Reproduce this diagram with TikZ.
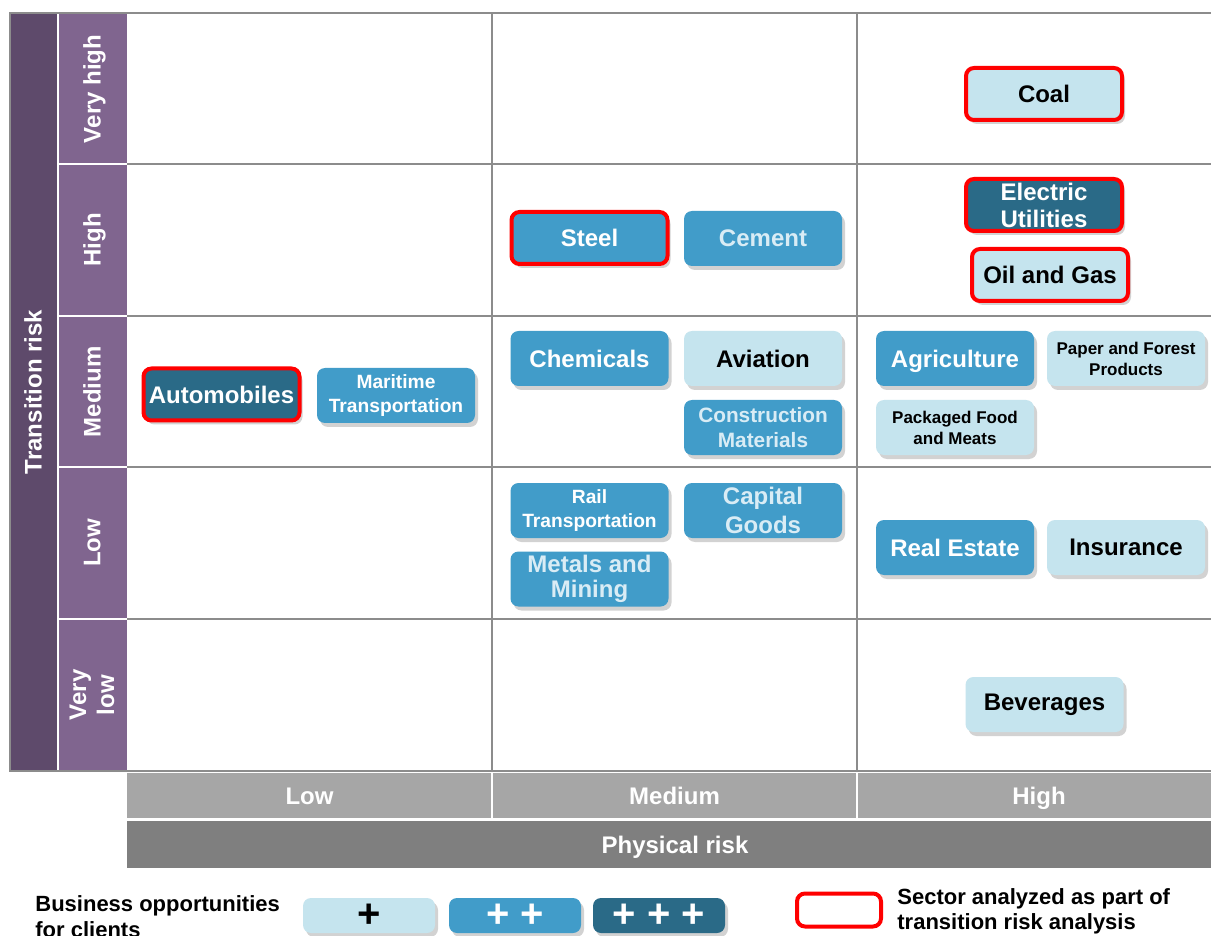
\documentclass[tikz,border=0pt]{standalone}
\usepackage{fontspec}
\setmainfont{Liberation Sans}
\usetikzlibrary{shadows}

\definecolor{sectorlight}{HTML}{C5E4EE}
\definecolor{sectormid}{HTML}{419CC9}
\definecolor{sectordark}{HTML}{2A6A87}
\definecolor{textpale}{HTML}{D9ECF5}
\definecolor{axisdark}{HTML}{5E4A6B}
\definecolor{axislight}{HTML}{80658F}
\definecolor{gridgray}{HTML}{8C8C8C}
\definecolor{barlight}{HTML}{A6A6A6}
\definecolor{bardark}{HTML}{7F7F7F}

\tikzset{
  sector/.style={rounded corners=4pt, minimum width=79pt, minimum height=27.5pt,
    inner sep=1pt, align=center, font=\bfseries\fontsize{12}{13.5}\selectfont,
    drop shadow={shadow xshift=1.5pt, shadow yshift=-2pt, opacity=0.35}},
  lowopp/.style={sector, fill=sectorlight, text=black},
  midopp/.style={sector, fill=sectormid, text=white},
  highopp/.style={sector, fill=sectordark, text=white},
  analyzed/.style={draw=red, line width=2pt, minimum width=78pt, minimum height=26pt},
  smalltext/.style={font=\bfseries\fontsize{8.5}{10.5}\selectfont},
  midtext/.style={font=\bfseries\fontsize{9.6}{12}\selectfont},
  nodepth/.style={text depth=0pt},
  legbox/.style={minimum width=66pt, minimum height=17.5pt,
    font=\bfseries\fontsize{20}{20}\selectfont},
}

\begin{document}
\begin{tikzpicture}[x=0.5pt, y=-0.5pt]
  \useasboundingbox[fill=white] (0,0) rectangle (1211,936);

  % axes and grid
  \fill[axisdark] (10,13) rectangle (57,771);
  \fill[axislight] (59,13) rectangle (127,771);
  \foreach \y in {164,316,467,619} {
    \draw[white, line width=1.2pt] (59,\y) -- (127,\y);
    \draw[gridgray, line width=1pt] (127,\y) -- (1211,\y);
  }
  \foreach \x in {492,857}
    \draw[gridgray, line width=1pt] (\x,13) -- (\x,771);
  \draw[gridgray, line width=1pt] (1211,13) -- (10,13) -- (10,771) -- (1211,771);

  \fill[barlight] (127,773) rectangle (1211,818);
  \foreach \x in {492,857}
    \draw[white, line width=1pt] (\x,773) -- (\x,818);
  \fill[bardark] (127,821) rectangle (1211,868);

  \begin{scope}[every node/.style={text=white, align=center,
      font=\bfseries\fontsize{12}{14}\selectfont}]
    \node[rotate=90, nodepth] (trisk) at (33,392) {Transition risk};
    \node[rotate=90, nodepth] (tvhigh) at (92,89) {Very high};
    \node[rotate=90, nodepth] (thigh) at (92,240) {High};
    \node[rotate=90, nodepth] (tmed) at (92,392) {Medium};
    \node[rotate=90, nodepth] (tlow) at (92,543) {Low};
    \node[rotate=90] (tvlow) at (92,695) {Very\\low};
    \node[nodepth] (plow) at (309.5,796) {Low};
    \node[nodepth] (pmed) at (674.5,796) {Medium};
    \node[nodepth] (phigh) at (1039,796) {High};
    \node[nodepth] (prisk) at (675,845) {Physical risk};
  \end{scope}

  % sectors
  \node[lowopp, analyzed] (coal) at (1044,94) {Coal};
  \node[highopp, analyzed] (elec) at (1044,205) {Electric\\Utilities};
  \node[lowopp, analyzed] (oil) at (1050,275) {Oil and Gas};
  \node[midopp, analyzed] (steel) at (589.5,238) {Steel};
  \node[midopp, text=textpale] (cement) at (763,238.5) {Cement};
  \node[highopp, analyzed] (auto) at (221.5,394.5) {Automobiles};
  \node[midopp, midtext] (marit) at (396,395.5) {Maritime\\Transportation};
  \node[midopp] (chem) at (589.5,358.5) {Chemicals};
  \node[lowopp] (avia) at (763,358.5) {Aviation};
  \node[midopp, text=textpale, font=\bfseries\fontsize{10.4}{12.5}\selectfont]
    (constr) at (763,427.5) {Construction\\Materials};
  \node[midopp, nodepth] (agri) at (955,358.5) {Agriculture};
  \node[lowopp, smalltext] (paper) at (1126,358.5) {Paper and Forest\\Products};
  \node[lowopp, smalltext] (food) at (955,427.5) {Packaged Food\\and Meats};
  \node[midopp, midtext] (rail) at (589.5,510.5) {Rail\\Transportation};
  \node[midopp, text=textpale, font=\bfseries\fontsize{12}{14.5}\selectfont]
    (capital) at (763,510.5) {Capital\\Goods};
  \node[midopp, text=textpale, font=\bfseries\fontsize{12}{12.5}\selectfont]
    (metals) at (589.5,579) {Metals and\\Mining};
  \node[midopp] (estate) at (955,547.5) {Real Estate};
  \node[lowopp] (insur) at (1126,547.5) {Insurance};
  \node[lowopp] (bever) at (1044.5,704.5) {Beverages};

  % legend
  \node[anchor=west, align=left, inner sep=0pt, font=\bfseries\fontsize{11}{13}\selectfont]
    (bizopp) at (35,917) {Business opportunities\\for clients};
  \node[lowopp, legbox] (leg1) at (369,915.5) {+};
  \node[midopp, legbox] (leg2) at (515,915.5) {+ +};
  \node[highopp, legbox] (leg3) at (659,915.5) {+ + +};
  \node[draw=red, line width=2pt, rounded corners=4pt, fill=white,
    minimum width=42pt, minimum height=16.5pt] (legred) at (839,910) {};
  \node[anchor=west, align=left, inner sep=0pt, font=\bfseries\fontsize{11}{12.5}\selectfont]
    (legtext) at (897,911.5) {Sector analyzed as part of\\transition risk analysis};

\end{tikzpicture}
\end{document}
